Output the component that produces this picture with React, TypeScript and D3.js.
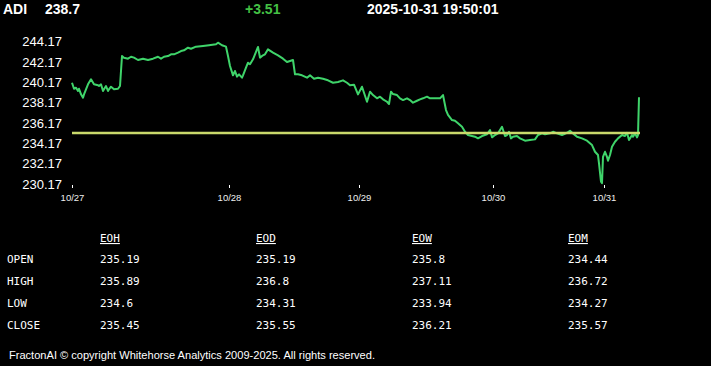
import React, { useEffect, useRef } from 'react'
import * as d3 from 'd3'

const symbol = 'ADI'
const lastPrice = 238.7
const change = 3.51
const stamp = '2025-10-31 19:50:01'

// [bar index, price]
const series: [number, number][] = [
  [0, 240.13], [2, 239.54], [4, 239.64], [6, 239.32], [7, 239.54], [9, 238.99], [11, 238.66], [12, 238.99],
  [14, 239.49], [16, 239.98], [19, 240.47], [22, 239.98], [26, 239.88], [27, 239.81], [29, 239.98], [31, 239.32],
  [32, 239.49], [34, 239.81], [36, 239.32], [37, 239.49], [39, 239.74], [42, 239.49], [46, 239.54], [48, 239.81],
  [50, 242.76], [52, 242.6], [56, 242.5], [59, 242.69], [62, 242.6], [66, 242.37], [71, 242.5], [76, 242.37],
  [81, 242.5], [86, 242.69], [89, 242.5], [92, 242.69], [96, 242.76], [99, 242.93], [102, 242.93], [106, 243.09],
  [109, 243.25], [112, 243.32], [116, 243.58], [119, 243.48], [124, 243.68], [131, 243.75], [137, 243.82], [144, 243.91],
  [146, 244.07], [150, 243.82], [154, 243.68], [156, 242.76], [158, 241.78], [161, 240.86], [163, 241.29], [165, 240.73],
  [167, 240.96], [170, 240.63], [171, 240.86], [174, 241.61], [176, 242.1], [178, 241.95], [181, 242.44], [183, 242.93],
  [186, 243.65], [188, 242.6], [191, 242.83], [193, 242.93], [196, 243.42], [201, 243.09], [206, 242.83], [211, 242.5],
  [215, 242.17], [218, 242.27], [221, 242.37], [223, 240.96], [226, 240.96], [230, 240.86], [235, 240.63], [238, 240.86],
  [242, 240.53], [246, 240.63], [251, 240.53], [256, 240.37], [261, 240.13], [266, 240.2], [271, 240.37], [275, 240.13],
  [278, 239.88], [282, 239.94], [286, 238.99], [290, 239.74], [295, 238.26], [298, 239.25], [301, 238.92], [305, 238.6],
  [308, 238.76], [311, 238.5], [315, 238.26], [317, 238.04], [319, 239.25], [321, 239.02], [325, 238.92], [328, 238.6],
  [331, 238.43], [335, 238.6], [338, 238.43], [341, 238.17], [345, 238.36], [348, 238.5], [351, 238.6], [355, 238.76],
  [358, 238.6], [363, 238.6], [368, 238.6], [371, 238.92], [374, 237.45], [376, 236.96], [380, 236.46], [383, 236.39],
  [386, 236.14], [390, 235.8], [393, 235.31], [396, 234.99], [400, 234.89], [403, 234.82], [406, 234.66], [410, 234.89],
  [415, 235.06], [418, 235.48], [420, 234.76], [423, 234.99], [426, 235.15], [430, 235.8], [433, 234.89], [435, 234.99],
  [437, 235.31], [439, 234.66], [441, 234.82], [445, 234.89], [448, 234.66], [453, 234.43], [458, 234.49], [463, 234.56],
  [466, 234.99], [470, 235.15], [473, 235.06], [478, 235.15], [481, 235.31], [485, 235.15], [490, 234.99], [495, 235.21],
  [498, 235.41], [501, 235.15], [505, 234.82], [510, 234.66], [515, 234.43], [520, 234.0], [523, 233.34], [526, 233.02],
  [527, 232.2], [529, 230.39], [530, 230.26], [531, 232.85], [533, 233.34], [535, 232.85], [536, 232.46], [538, 233.02],
  [540, 233.84], [543, 234.33], [546, 234.66], [550, 234.99], [553, 234.89], [555, 235.21], [557, 234.49], [560, 234.99],
  [561, 234.82], [563, 235.15], [565, 234.76], [566, 234.99], [567, 238.7]
]

const yTicks = [230.17, 232.17, 234.17, 236.17, 238.17, 240.17, 242.17, 244.17]
const dayBars = [0, 157, 287, 421, 532]
const dayLabels = ['10/27', '10/28', '10/29', '10/30', '10/31']

const columns = ['EOH', 'EOD', 'EOW', 'EOM']
const rowNames = ['OPEN', 'HIGH', 'LOW', 'CLOSE']
const eoh = [235.19, 235.89, 234.6, 235.45]
const eod = [235.19, 236.8, 234.31, 235.55]
const eow = [235.8, 237.11, 233.94, 236.21]
const eom = [234.44, 236.72, 234.27, 235.57]

const W = 711
const H = 366
const sans = 'Liberation Sans, Arial, sans-serif'
const mono = 'DejaVu Sans Mono, monospace'

function App() {
  const ref = useRef<SVGSVGElement>(null)

  useEffect(() => {
    const svg = d3.select(ref.current)
    svg.selectAll('*').remove()

    svg.append('rect').attr('width', W).attr('height', H).attr('fill', '#000')

    // header
    const head = svg.append('g').attr('font-family', sans).attr('font-weight', 'bold').attr('font-size', 14)
    head.append('text').attr('x', 3).attr('y', 14).attr('fill', '#fff').text(symbol)
    head.append('text').attr('x', 45).attr('y', 14).attr('fill', '#fff').text(String(lastPrice))
    head.append('text').attr('x', 245).attr('y', 14).attr('fill', '#44c044').text('+' + change)
    head.append('text').attr('x', 367).attr('y', 14).attr('fill', '#fff').text(stamp)

    const x = d3.scaleLinear().domain([0, 567]).range([72, 639])
    const y = d3.scaleLinear().domain([230.17, 244.17]).range([184, 41.7])

    const yAxis = svg
      .append('g')
      .attr('transform', 'translate(72,0)')
      .call(d3.axisLeft(y).tickValues(yTicks).tickSize(0).tickPadding(10).tickFormat(d3.format('.2f')))
    yAxis.select('.domain').remove()
    yAxis.selectAll('text').attr('fill', '#fff').attr('font-size', 13).attr('font-family', sans)

    const xAxis = svg
      .append('g')
      .attr('transform', 'translate(0,185)')
      .call(
        d3
          .axisBottom(x)
          .tickValues(dayBars)
          .tickSize(3)
          .tickPadding(6)
          .tickFormat((d, i) => dayLabels[i])
      )
    xAxis.select('.domain').remove()
    xAxis.selectAll('line').attr('stroke', '#fff')
    xAxis.selectAll('text').attr('fill', '#eee').attr('font-size', 9.5).attr('font-family', sans)

    const line = d3
      .line<[number, number]>()
      .x(d => x(d[0]))
      .y(d => y(d[1]))
    svg
      .append('path')
      .datum(series)
      .attr('d', line)
      .attr('fill', 'none')
      .attr('stroke', '#3fd46a')
      .attr('stroke-width', 2)
      .attr('stroke-linejoin', 'round')

    // previous close
    const prevClose = +(lastPrice - change).toFixed(2)
    svg
      .append('line')
      .attr('x1', x(0))
      .attr('x2', x(567) + 1)
      .attr('y1', y(prevClose))
      .attr('y2', y(prevClose))
      .attr('stroke', '#c9d96b')
      .attr('stroke-width', 2.5)

    // table
    const colX = d3.scalePoint().domain(columns).range([100, 568])
    const rowY = d3.scalePoint().domain(rowNames).range([263, 329])
    const table = svg.append('g').attr('font-family', mono).attr('font-size', 11).attr('fill', '#fff')
    const values = [eoh, eod, eow, eom]

    table
      .selectAll('text.hdr')
      .data(columns)
      .enter()
      .append('text')
      .attr('class', 'hdr')
      .attr('x', d => colX(d)!)
      .attr('y', 242)
      .attr('text-decoration', 'underline')
      .text(d => d)

    table
      .selectAll('text.row')
      .data(rowNames)
      .enter()
      .append('text')
      .attr('class', 'row')
      .attr('x', 7)
      .attr('y', d => rowY(d)!)
      .text(d => d)

    columns.forEach((c, ci) => {
      table
        .selectAll(`text.v${ci}`)
        .data(values[ci])
        .enter()
        .append('text')
        .attr('class', `v${ci}`)
        .attr('x', colX(c)!)
        .attr('y', (d, i) => rowY(rowNames[i])!)
        .text(d => String(d))
    })

    svg
      .append('text')
      .attr('x', 9)
      .attr('y', 359)
      .attr('fill', '#fff')
      .attr('font-family', sans)
      .attr('font-size', 11)
      .attr('textLength', 366)
      .attr('lengthAdjust', 'spacingAndGlyphs')
      .text('FractonAI \u00a9 copyright Whitehorse Analytics 2009-2025. All rights reserved.')
  }, [])

  return (
    <div style={{ position: 'fixed', left: 0, top: 0, width: W, height: H, background: '#000' }}>
      <svg ref={ref} width={W} height={H} style={{ display: 'block' }} />
    </div>
  )
}

export default App
